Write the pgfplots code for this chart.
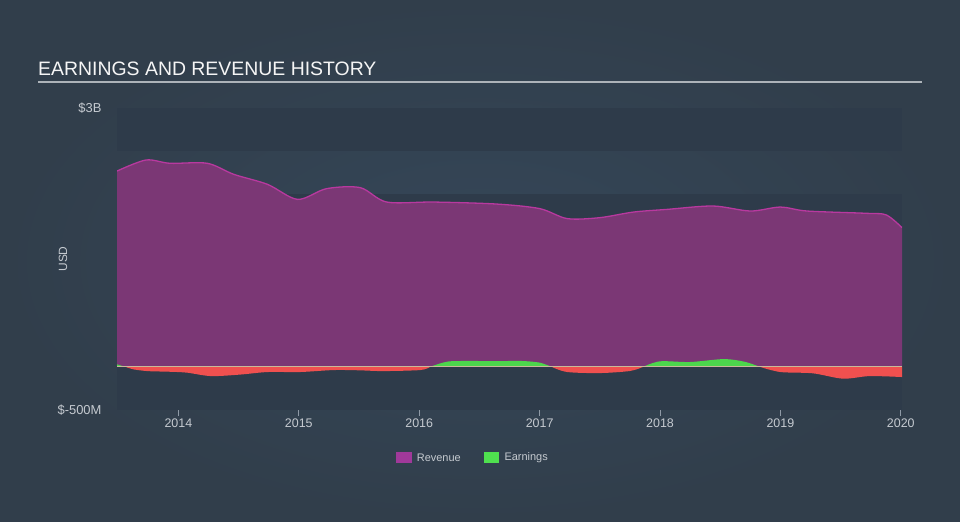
\documentclass[border=0pt]{standalone}
\usepackage{fontspec}
\setmainfont{Liberation Sans}
\usepackage{pgfplots}
\pgfplotsset{compat=1.18}
\definecolor{bg}{HTML}{33424F}
\definecolor{bginner}{HTML}{354759}
\definecolor{bgouter}{HTML}{313E4B}
\definecolor{band}{HTML}{2E3B4A}
\definecolor{revfill}{HTML}{7B3775}
\definecolor{revline}{HTML}{B8399F}
\definecolor{revleg}{HTML}{A0399A}
\definecolor{earnpos}{HTML}{4CD64C}
\definecolor{earnleg}{HTML}{4FE04F}
\definecolor{earnneg}{HTML}{F0504F}
\definecolor{txt}{HTML}{C5CAD0}
\definecolor{axisc}{HTML}{8F9AA6}
\definecolor{zeroc}{HTML}{C9B99A}
\begin{document}
\begin{tikzpicture}
\begin{scope}[x=1bp,y=1bp]
\useasboundingbox (0,0) rectangle (960,522);
\shade[inner color=bginner, outer color=bgouter] (0,0) rectangle (960,522);
\node[anchor=base west, inner sep=0pt, text=white!92!gray, font=\fontsize{19.5}{20}\selectfont] at (38,446.3) {EARNINGS AND REVENUE HISTORY};
\draw[color=white!60!bg, line width=2bp] (38,440.3) -- (922,440.3);
\node[rotate=90, anchor=center, inner sep=0pt, text=txt, font=\fontsize{12}{13}\selectfont] at (63,263) {USD};
% legend
\fill[revleg] (396,58.7) rectangle (411.7,69.7);
\node[anchor=west, inner sep=0pt, text=txt, font=\fontsize{11}{12}\selectfont] at (416.7,64) {Revenue};
\fill[earnleg] (484.3,58.7) rectangle (499.3,69.7);
\node[anchor=west, inner sep=0pt, text=txt, font=\fontsize{11}{12}\selectfont] at (504.3,64) {Earnings};
\end{scope}
\begin{axis}[
  at={(117bp,112bp)}, anchor=south west, scale only axis,
  width=785bp, height=302bp,
  xmin=2013.49, xmax=2020.01, ymin=-500, ymax=3000,
  axis x line*=bottom, axis y line*=left,
  x axis line style={draw=axisc, line width=1bp, -},
  y axis line style={draw=none},
  xtick={2014,2015,2016,2017,2018,2019,2020},
  xticklabels={2014,2015,2016,2017,2018,2019,2020},
  ytick={-500,3000},
  yticklabels={\$-500M,\$3B},
  tick align=outside, major tick length=6bp,
  xtick style={draw=axisc, line width=1bp},
  ytick style={draw=none},
  xticklabel style={text=txt, font=\fontsize{12.5}{13}\selectfont, yshift=1bp},
  yticklabel style={text=txt, font=\fontsize{13}{14}\selectfont, anchor=east, xshift=-6bp},
  /pgf/number format/assume math mode=true,
  clip=true,
]
\fill[band] (axis cs:2013.49,2500) rectangle (axis cs:2020.01,3000);
\fill[band] (axis cs:2013.49,1500) rectangle (axis cs:2020.01,2000);
\fill[band] (axis cs:2013.49,500) rectangle (axis cs:2020.01,1000);
\fill[band] (axis cs:2013.49,-500) rectangle (axis cs:2020.01,0);
% Revenue
\addplot[fill=revfill, draw=none, smooth] coordinates {
(2013.49,2269) (2013.73,2397) (2013.93,2359) (2014.24,2359) (2014.46,2231)
(2014.74,2115) (2014.99,1941) (2015.23,2065) (2015.51,2077) (2015.73,1910)
(2016.12,1910) (2016.64,1887) (2017.00,1834) (2017.23,1718) (2017.50,1729)
(2017.78,1794) (2018.06,1825) (2018.44,1864) (2018.75,1806) (2019.00,1852)
(2019.22,1806) (2019.72,1779) (2019.88,1760) (2020.01,1613)
} \closedcycle;
% Earnings segments
\addplot[fill=earnpos, draw=none] coordinates {(2013.49,29) (2013.56,0)} \closedcycle;
\addplot[fill=earnneg, draw=none, smooth] coordinates {
(2013.56,0) (2013.63,-30) (2013.75,-50) (2013.91,-56) (2014.07,-67) (2014.27,-107)
(2014.51,-90) (2014.74,-60) (2015.01,-60) (2015.29,-37) (2015.50,-40)
(2015.70,-49) (2016.01,-37) (2016.09,0)
} \closedcycle;
\addplot[fill=earnpos, draw=none, smooth] coordinates {
(2016.09,0) (2016.20,50) (2016.30,67) (2016.67,67) (2016.85,68) (2017.0,49) (2017.10,0)
} \closedcycle;
\addplot[fill=earnneg, draw=none, smooth] coordinates {
(2017.10,0) (2017.23,-60) (2017.50,-72) (2017.75,-48) (2017.86,0)
} \closedcycle;
\addplot[fill=earnpos, draw=none, smooth] coordinates {
(2017.86,0) (2018.00,64) (2018.25,56) (2018.53,90) (2018.70,60) (2018.83,0)
} \closedcycle;
\addplot[fill=earnneg, draw=none, smooth] coordinates {
(2018.83,0) (2019.00,-60) (2019.27,-75) (2019.52,-137) (2019.74,-107) (2020.01,-118)
} \closedcycle;
\draw[color=zeroc, line width=0.8bp] (axis cs:2013.49,0) -- (axis cs:2020.01,0);
\addplot[draw=revline, line width=1.3bp, smooth] coordinates {
(2013.49,2269) (2013.73,2397) (2013.93,2359) (2014.24,2359) (2014.46,2231)
(2014.74,2115) (2014.99,1941) (2015.23,2065) (2015.51,2077) (2015.73,1910)
(2016.12,1910) (2016.64,1887) (2017.00,1834) (2017.23,1718) (2017.50,1729)
(2017.78,1794) (2018.06,1825) (2018.44,1864) (2018.75,1806) (2019.00,1852)
(2019.22,1806) (2019.72,1779) (2019.88,1760) (2020.01,1613)
};
\end{axis}
\end{tikzpicture}
\end{document}
